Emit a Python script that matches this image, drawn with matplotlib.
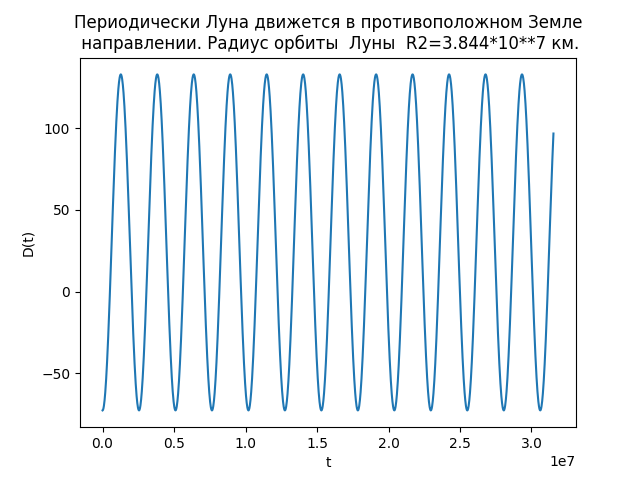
import numpy as np
import matplotlib
matplotlib.use('Agg')
import matplotlib.pyplot as plt

# values
t_end = 3.1536e7      # one year, s
period = 2.551e6      # synodic month, s
d_min = -72.6
d_max = 132.8

t = np.linspace(0, t_end, 2000)
mid = (d_max + d_min) / 2
amp = (d_max - d_min) / 2
D = mid - amp * np.cos(2 * np.pi * t / period)

fig = plt.figure(figsize=(6.4, 4.8), dpi=100)
plt.plot(t, D)
plt.title('Периодически Луна движется в противоположном Земле\n'
          ' направлении. Радиус орбиты  Луны  R2=3.844*10**7 км.')
plt.xlabel('t')
plt.ylabel('D(t)')
plt.savefig('out.png')
